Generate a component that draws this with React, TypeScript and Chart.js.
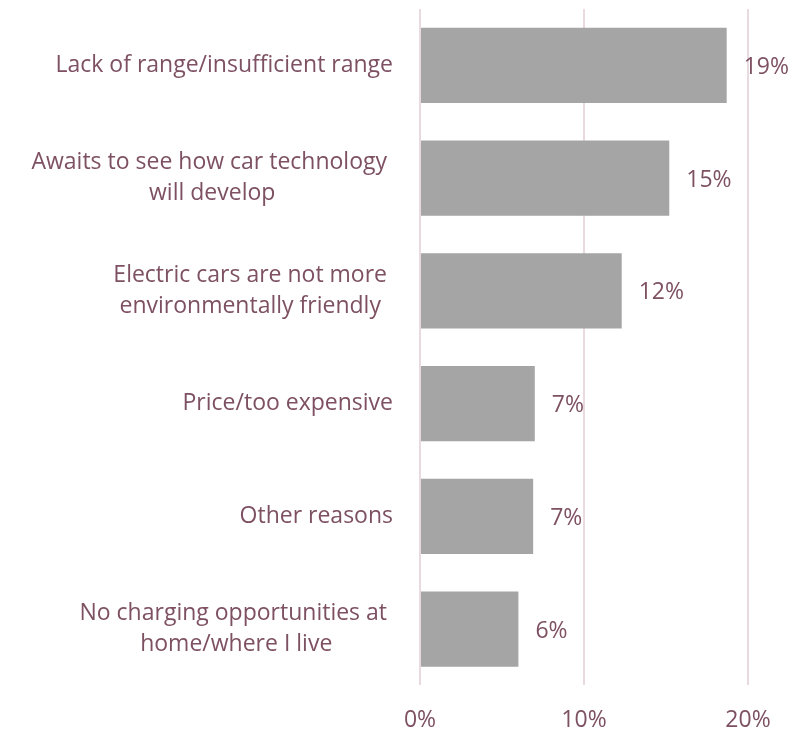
import React, { useEffect, useRef } from "react";
import { Chart, registerables } from "chart.js";

Chart.register(...registerables);

const categories: string[][] = [
  ["Lack of range/insufficient range"],
  ["Awaits to see how car technology ", "will develop"],
  ["Electric cars are not more ", "environmentally friendly "],
  ["Price/too expensive"],
  ["Other reasons"],
  ["No charging opportunities at ", "home/where I live"],
];
const values: number[] = [18.7, 15.2, 12.3, 7.0, 6.9, 6.0];
const valueLabels: string[] = ["19%", "15%", "12%", "7%", "7%", "6%"];
const xTicks: number[] = [0, 10, 20];

const TEXT = "#7d5062";
const GRID = "#e8dade";
const BAR = "#a5a5a5";
const FONT = "'Open Sans'";
const SIZE = 23;

const labelPlugin = {
  id: "customLabels",
  afterDatasetsDraw(chart: any) {
    const ctx = chart.ctx;
    const y = chart.scales.y;
    const meta = chart.getDatasetMeta(0);
    ctx.save();
    ctx.fillStyle = TEXT;
    ctx.font = `${SIZE}px ${FONT}`;
    ctx.textBaseline = "middle";
    const rightEdge = 393;
    const lineH = 31;
    categories.forEach((lines, i) => {
      const cy = y.getPixelForValue(i);
      const widths = lines.map((l) => ctx.measureText(l).width);
      const maxW = Math.max(...widths);
      const cx = rightEdge - maxW / 2;
      ctx.textAlign = "center";
      lines.forEach((l, j) => {
        const ly = cy + (j - (lines.length - 1) / 2) * lineH;
        ctx.fillText(l, cx, ly);
      });
      const bar = meta.data[i];
      ctx.textAlign = "left";
      ctx.fillText(valueLabels[i], bar.x + 17, cy + 2);
    });
    ctx.restore();
  },
};

export default function App() {
  const ref = useRef<HTMLCanvasElement | null>(null);
  useEffect(() => {
    if (!ref.current) return;
    const chart = new Chart(ref.current, {
      type: "bar",
      data: {
        labels: categories.map((c) => c.join(" ")),
        datasets: [
          {
            data: values,
            backgroundColor: BAR,
            categoryPercentage: 1,
            barPercentage: 0.667,
          },
        ],
      },
      options: {
        indexAxis: "y",
        animation: false,
        responsive: false,
        layout: { padding: { left: 420, right: 54, top: 9, bottom: -22 } },
        plugins: { legend: { display: false }, tooltip: { enabled: false } },
        scales: {
          x: {
            min: 0,
            max: 20,
            afterBuildTicks: (axis: any) => {
              axis.ticks = xTicks.map((v) => ({ value: v }));
            },
            grid: { color: GRID, lineWidth: 2, drawTicks: false },
            border: { display: false },
            ticks: {
              color: TEXT,
              font: { family: FONT, size: SIZE },
              padding: 21,
              callback: (v: any) => `${v}%`,
            },
          },
          y: {
            display: false,
          },
        },
      },
      plugins: [labelPlugin],
    });
    return () => chart.destroy();
  }, []);
  return (
    <div style={{ position: "absolute", left: 0, top: 0, width: 802, height: 733 }}>
      <canvas ref={ref} width={802} height={733} style={{ width: 802, height: 733 }} />
    </div>
  );
}
